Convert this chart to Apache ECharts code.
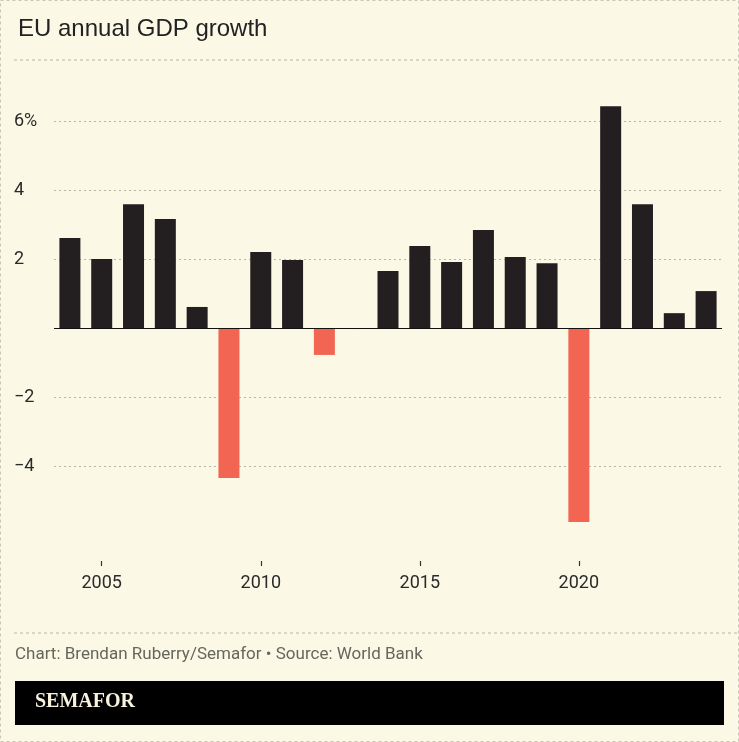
<!DOCTYPE html>
<html>
<head>
<meta charset="utf-8">
<script src="https://cdn.jsdelivr.net/npm/echarts@6/dist/echarts.min.js"></script>
<style>
    html, body { margin: 0; padding: 0; background: #fbf9e6; }
    #chartsbox { width: 739px; height: 742px; }
</style>
</head>
<body>
<div id="chartsbox"></div>
<script type="text/javascript">
    // 年份与增长率
    var aYears = ['2004','2005','2006','2007','2008','2009','2010','2011','2012','2013','2014',
                  '2015','2016','2017','2018','2019','2020','2021','2022','2023','2024'];
    var aGrowth = [2.61, 2.0, 3.59, 3.16, 0.61, -4.35, 2.2, 1.97, -0.78, -0.03, 1.65,
                   2.38, 1.91, 2.84, 2.06, 1.88, -5.62, 6.43, 3.59, 0.43, 1.07];
    var aYTicks = [-6, -4, -2, 0, 2, 4, 6, 8];

    var sDark = '#231f20';
    var sRed = '#f26552';
    var sGrid = '#b9b6a6';

    function isFifth(i, v) { return Number(v) % 5 === 0; }

    var myChart = echarts.init(document.getElementById('chartsbox'));
    var option = {
        backgroundColor: '#fbf9e6',
        animation: false,
        textStyle: { fontFamily: 'Roboto, "Noto Sans", sans-serif' },
        title: {
            text: 'EU annual GDP growth',
            left: 13, top: 12,
            textStyle: { fontFamily: '"Liberation Sans", Arial, sans-serif', fontSize: 24, fontWeight: 'normal', color: '#222' }
        },
        grid: { left: 54, right: 17, top: 52, bottom: 742 - 535 },
        xAxis: {
            type: 'category',
            data: aYears,
            offset: 26,
            axisLine: { show: true, onZero: false, lineStyle: { color: 'rgba(0,0,0,0)' } },
            axisTick: {
                show: true, alignWithLabel: true, length: 5,
                lineStyle: { color: '#333', width: 1.2 },
                interval: isFifth
            },
            axisLabel: {
                interval: isFifth,
                fontSize: 18, color: '#2a2a2a', margin: 13
            }
        },
        yAxis: {
            type: 'value',
            min: -6, max: 8, interval: 2,
            axisLine: { show: false },
            axisTick: { show: false },
            axisLabel: {
                align: 'left', margin: 40, fontSize: 18, color: '#2a2a2a',
                formatter: function (v) {
                    if (v === 6) { return '6%'; }
                    if (v === 0 || v === 8 || v === -6) { return ''; }
                    return String(v).replace('-', '\u2212');
                }
            },
            splitLine: {
                lineStyle: {
                    type: [2, 3],
                    color: aYTicks.map(function (t) {
                        return (t === 0 || t === 8 || t === -6) ? 'rgba(0,0,0,0)' : sGrid;
                    })
                }
            }
        },
        graphic: [
            { type: 'rect', shape: { x: 0.5, y: 0.5, width: 738, height: 741 },
              style: { fill: null, stroke: '#c9c6b8', lineDash: [3, 3], lineWidth: 1 } },
            { type: 'line', shape: { x1: 14, y1: 60, x2: 739, y2: 60 },
              style: { stroke: sGrid, lineDash: [3, 3], lineWidth: 1 } },
            { type: 'line', shape: { x1: 14, y1: 633, x2: 739, y2: 633 },
              style: { stroke: sGrid, lineDash: [3, 3], lineWidth: 1 } },
            { type: 'text', left: 15, top: 646,
              style: { text: 'Chart: Brendan Ruberry/Semafor \u2022 Source: World Bank',
                       fill: '#66665c', font: '17px Roboto, "Noto Sans", sans-serif' } },
            { type: 'rect', shape: { x: 15, y: 681, width: 709, height: 44 },
              style: { fill: '#000' } },
            { type: 'text', left: 35, top: 692,
              style: { text: 'SEMAFOR', fill: '#f7f2de',
                       font: 'bold 20px "Liberation Serif", "DejaVu Serif", serif' } }
        ],
        series: [
            {
                type: 'bar',
                barWidth: 21,
                data: aGrowth.map(function (v) {
                    return { value: v, itemStyle: { color: v < 0 ? sRed : sDark } };
                }),
                markLine: {
                    silent: true,
                    symbol: 'none',
                    label: { show: false },
                    lineStyle: { color: '#111', type: 'solid', width: 1.2 },
                    data: [{ yAxis: 0 }]
                }
            }
        ]
    };
    myChart.setOption(option);
</script>
</body>
</html>
